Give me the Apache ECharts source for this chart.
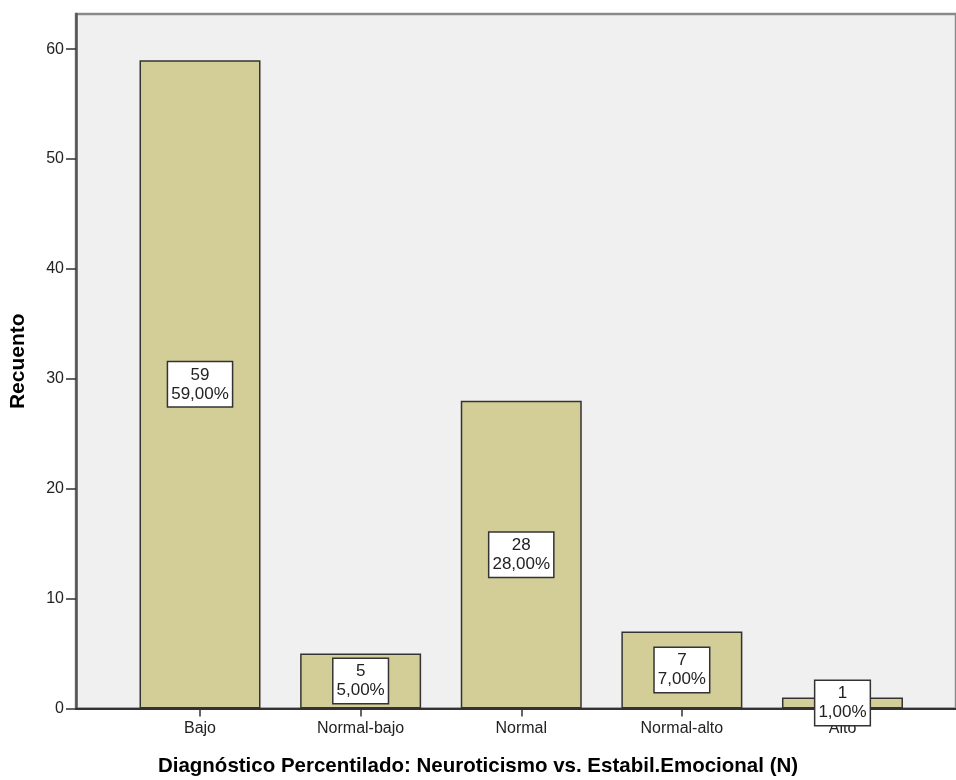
<!DOCTYPE html>
<html>
<head>
<meta charset="utf-8">
<title>Diagnóstico Percentilado</title>
<script src="https://cdn.jsdelivr.net/npm/echarts@6/dist/echarts.min.js"></script>
<style>
  html, body { margin: 0; padding: 0; background: #ffffff; }
  #chart { width: 956px; height: 780px; }
</style>
</head>
<body>
<div id="chart"></div>
<script>
// Frequencies for each diagnostic category
const categories = ['Bajo', 'Normal-bajo', 'Normal', 'Normal-alto', 'Alto'];
const counts = [59, 5, 28, 7, 1];
const percents = [59, 5, 28, 7, 1];
const yTicks = [0, 10, 20, 30, 40, 50, 60];

const FONT = "'Liberation Sans', Arial, sans-serif";
const Y_MAX = 63.2;

const chart = echarts.init(document.getElementById('chart'), null, { renderer: 'canvas' });

const fmtPct = v => v.toFixed(2).replace('.', ',') + '%';

const option = {
  animation: false,
  backgroundColor: '#ffffff',
  title: {
    text: 'Diagnóstico Percentilado: Neuroticismo vs. Estabil.Emocional (N)',
    left: 'center',
    top: 751,
    textStyle: { fontFamily: FONT, fontSize: 20.5, fontWeight: 'bold', color: '#000' }
  },
  grid: [
    // full plotting frame with grey background
    { left: 75, right: -2, top: 14, bottom: 71.5, show: true,
      backgroundColor: '#f0f0f0', borderColor: '#8a8a8a', borderWidth: 2.5 },
    // inner band holding the categories
    { left: 119.7, right: 33.2, top: 14, bottom: 71.5 }
  ],
  xAxis: [
    { type: 'value', gridIndex: 0, min: 0, max: 1,
      axisLine: { show: true, lineStyle: { color: '#333', width: 2 } },
      axisTick: { show: false }, axisLabel: { show: false }, splitLine: { show: false } },
    { type: 'category', gridIndex: 1, data: categories,
      axisLine: { show: false },
      axisTick: { show: true, alignWithLabel: true, length: 8, lineStyle: { color: '#333', width: 1.5 } },
      axisLabel: { fontFamily: FONT, fontSize: 16, color: '#222', margin: 12 },
      splitLine: { show: false } }
  ],
  yAxis: [
    { type: 'value', gridIndex: 0, min: 0, max: Y_MAX,
      name: 'Recuento', nameLocation: 'middle', nameRotate: 90, nameGap: 47,
      nameTextStyle: { fontFamily: FONT, fontSize: 21, fontWeight: 'bold', color: '#000' },
      axisLine: { show: true, lineStyle: { color: '#555', width: 2.5 } },
      axisTick: { show: true, length: 10, customValues: yTicks, lineStyle: { color: '#333', width: 1.5 } },
      axisLabel: { fontFamily: FONT, fontSize: 16, color: '#222', margin: 12, customValues: yTicks },
      splitLine: { show: false } },
    { type: 'value', gridIndex: 1, min: 0, max: Y_MAX, show: false }
  ],
  series: [{
    type: 'bar',
    xAxisIndex: 1,
    yAxisIndex: 1,
    barWidth: 121,
    data: counts,
    itemStyle: { color: '#d3ce97', borderColor: '#333', borderWidth: 1.5 },
    label: {
      show: true,
      position: 'inside',
      formatter: p => p.value + '\n' + fmtPct(percents[p.dataIndex]),
      fontFamily: FONT,
      fontSize: 17,
      lineHeight: 19,
      color: '#222',
      align: 'center',
      backgroundColor: '#ffffff',
      borderColor: '#333',
      borderWidth: 1.5,
      padding: [3, 3]
    }
  }]
};

chart.setOption(option);
</script>
</body>
</html>
